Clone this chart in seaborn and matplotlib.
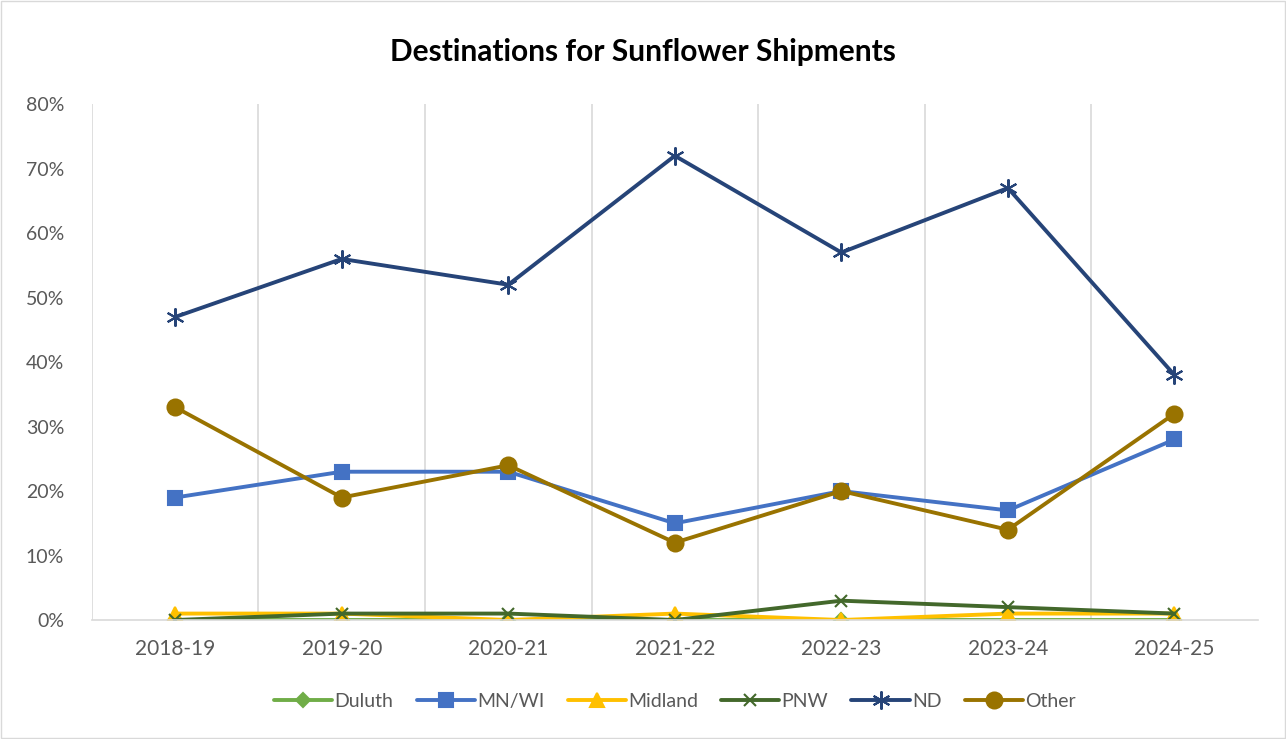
import numpy as np
import pandas as pd
import matplotlib
matplotlib.use('Agg')
import matplotlib.pyplot as plt
import seaborn as sns
from matplotlib.ticker import PercentFormatter

seasons = ['2018-19', '2019-20', '2020-21', '2021-22', '2022-23', '2023-24', '2024-25']
duluth = [0, 0, 0, 0, 0, 0, 0]
mn_wi = [19, 23, 23, 15, 20, 17, 28]
midland = [1, 1, 0, 1, 0, 1, 1]
pnw = [0, 1, 1, 0, 3, 2, 1]
nd = [47, 56, 52, 72, 57, 67, 38]
other = [33, 19, 24, 12, 20, 14, 32]

series_names = ['Duluth', 'MN/WI', 'Midland', 'PNW', 'ND', 'Other']
series_vals = [duluth, mn_wi, midland, pnw, nd, other]
colors = ['#70AD47', '#4472C4', '#FFC000', '#43682B', '#264478', '#997300']
markers = ['D', 's', '^', 'x', (6, 2, 0), 'o']
msizes = [7, 10.5, 10, 9, 13, 11.5]

sns.set_style('white')
plt.rcParams['font.family'] = ['Lato', 'DejaVu Sans']

fig = plt.figure(figsize=(12.86, 7.39), dpi=100)
ax = fig.add_axes([0.0715, 0.161, 0.9065, 0.698])

for name, vals, c, m, ms in zip(series_names, series_vals, colors, markers, msizes):
	df = pd.DataFrame({'x': np.arange(len(seasons)), 'y': vals})
	sns.lineplot(data=df, x='x', y='y', ax=ax, color=c, linewidth=2.8,
				 marker=m, markersize=ms, markeredgecolor=c, markerfacecolor=c,
				 markeredgewidth=1.5, label=name)

ax.set_xlim(-0.5, 6.5)
ax.set_ylim(0, 80)
ax.set_xticks(range(len(seasons)))
ax.set_xticklabels(seasons)
ax.set_yticks(range(0, 81, 10))
ax.yaxis.set_major_formatter(PercentFormatter(decimals=0))
ax.tick_params(axis='both', colors='#595959', labelsize=14, length=0)
ax.tick_params(axis='x', labelsize=15, pad=14)
ax.tick_params(axis='y', pad=20)
ax.set_xlabel('')
ax.set_ylabel('')

# vertical gridlines between categories
for gx in np.arange(-0.5, 6.0, 1.0):
	ax.axvline(gx, color='#D9D9D9', linewidth=1.2, zorder=0)
for s in ['top', 'right', 'left']:
	ax.spines[s].set_visible(False)
ax.spines['bottom'].set_color('#D9D9D9')
ax.spines['bottom'].set_linewidth(1.2)

fig.text(0.5, 0.93, 'Destinations for Sunflower Shipments', ha='center', va='center',
		 fontsize=21.5, fontweight='bold', color='black')

leg = ax.legend(loc='center', bbox_to_anchor=(0.5, -0.158), ncol=6, frameon=False,
				fontsize=14, handlelength=3.0, handletextpad=0.1, columnspacing=1.2)
for t in leg.get_texts():
	t.set_color('#595959')

# outer border
fig.patches.append(plt.Rectangle((0.001, 0.001), 0.998, 0.998, transform=fig.transFigure,
								 fill=False, edgecolor='#D9D9D9', linewidth=1))

fig.savefig('out.png', dpi=100)
